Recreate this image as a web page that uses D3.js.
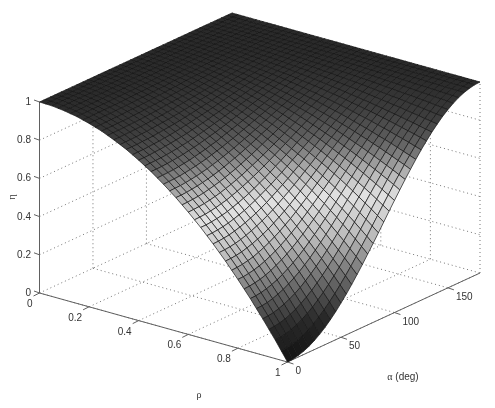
<!DOCTYPE html>
<html><head><meta charset="utf-8">
<script src="https://cdn.jsdelivr.net/npm/d3@7/dist/d3.min.js"></script>
<style>html,body{margin:0;padding:0;background:#fff}svg{display:block;filter:blur(0.4px)}text{font-family:"Liberation Sans",Arial,sans-serif;font-size:10px;fill:#333}</style>
</head><body><div id="chart"></div>
<script>
const rhoTicks=[0,0.2,0.4,0.6,0.8,1];
const rhoTickLabels=["0","0.2","0.4","0.6","0.8","1"];
const alphaTicks=[0,50,100,150];
const alphaTickLabels=["0","50","100","150"];
const etaTicks=[0,0.2,0.4,0.6,0.8,1];
const etaTickLabels=["0","0.2","0.4","0.6","0.8","1"];
const etaStops=[0,0.13,0.26,0.44,0.6,0.7,0.8,0.9,1];
const grayStops=[18,42,100,186,226,175,98,62,42];
// eta read on the mesh: one row per alpha (0..180 step 5), one column per rho (0..1 step 0.025)
const etaGrid=[
[1,.999,.998,.994,.99,.984,.978,.969,.96,.949,.938,.924,.91,.894,.878,.859,.84,.819,.798,.774,.75,.724,.698,.669,.64,.609,.578,.544,.51,.474,.438,.399,.36,.319,.278,.234,.19,.144,.098,.049,0],
[1,.999,.998,.994,.99,.984,.978,.969,.96,.949,.938,.925,.91,.895,.878,.86,.84,.82,.798,.775,.751,.725,.698,.67,.641,.61,.578,.545,.511,.475,.439,.401,.361,.321,.279,.236,.192,.146,.099,.051,.002],
[1,.999,.998,.994,.99,.984,.978,.97,.96,.95,.938,.925,.911,.895,.878,.86,.841,.821,.799,.776,.752,.726,.7,.672,.643,.612,.581,.548,.514,.478,.442,.404,.365,.325,.283,.24,.196,.151,.104,.057,.008],
[1,.999,.998,.995,.99,.985,.978,.97,.961,.95,.939,.926,.912,.896,.88,.862,.843,.822,.801,.778,.754,.729,.703,.675,.646,.616,.585,.552,.518,.483,.447,.41,.371,.331,.29,.247,.204,.159,.113,.066,.017],
[1,.999,.998,.995,.99,.985,.978,.97,.961,.951,.939,.927,.913,.898,.881,.864,.845,.825,.804,.781,.758,.733,.707,.679,.651,.621,.59,.558,.525,.49,.455,.417,.379,.34,.299,.258,.215,.17,.125,.078,.03],
[1,.999,.998,.995,.99,.985,.979,.971,.962,.952,.94,.928,.914,.899,.883,.866,.848,.828,.807,.785,.762,.737,.712,.685,.657,.628,.597,.566,.533,.499,.464,.428,.39,.351,.311,.27,.228,.184,.14,.094,.047],
[1,.999,.998,.995,.991,.985,.979,.971,.963,.953,.942,.929,.916,.902,.886,.869,.851,.831,.811,.789,.767,.743,.718,.692,.664,.635,.606,.575,.543,.51,.475,.44,.403,.365,.326,.286,.244,.202,.158,.113,.067],
[1,.999,.998,.995,.991,.986,.98,.972,.964,.954,.943,.931,.918,.904,.889,.872,.855,.836,.816,.795,.773,.749,.725,.699,.673,.645,.616,.585,.554,.522,.488,.454,.418,.381,.343,.304,.263,.222,.179,.135,.09],
[1,.999,.998,.995,.991,.986,.98,.973,.965,.955,.945,.933,.921,.907,.892,.876,.859,.84,.821,.801,.779,.757,.733,.708,.682,.655,.627,.598,.567,.536,.503,.47,.435,.399,.362,.324,.285,.244,.203,.161,.117],
[1,.999,.998,.995,.992,.987,.981,.974,.966,.957,.947,.935,.923,.91,.895,.88,.863,.846,.827,.807,.787,.765,.742,.718,.693,.667,.639,.611,.582,.551,.52,.487,.454,.419,.383,.347,.309,.27,.23,.189,.146],
[1,.999,.998,.995,.992,.987,.982,.975,.967,.958,.949,.938,.926,.913,.899,.885,.869,.852,.834,.815,.795,.774,.752,.728,.704,.679,.653,.626,.597,.568,.538,.507,.474,.441,.406,.371,.335,.297,.259,.219,.179],
[1,.999,.998,.996,.992,.988,.982,.976,.968,.96,.951,.941,.929,.917,.904,.889,.874,.858,.841,.822,.803,.783,.762,.74,.717,.693,.668,.642,.615,.586,.557,.527,.496,.464,.432,.398,.363,.327,.29,.252,.213],
[1,.999,.998,.996,.993,.988,.983,.977,.97,.962,.953,.943,.933,.921,.908,.895,.88,.865,.848,.831,.813,.793,.773,.752,.73,.707,.683,.658,.633,.606,.578,.55,.52,.49,.458,.426,.393,.358,.323,.287,.25],
[1,1,.998,.996,.993,.989,.984,.978,.972,.964,.956,.946,.936,.925,.913,.9,.886,.872,.856,.84,.822,.804,.785,.765,.744,.722,.699,.676,.652,.626,.6,.573,.545,.516,.486,.455,.424,.391,.358,.324,.289],
[1,1,.998,.996,.993,.99,.985,.979,.973,.966,.958,.949,.94,.929,.918,.906,.893,.879,.864,.849,.832,.815,.797,.778,.758,.738,.717,.694,.671,.647,.623,.597,.571,.543,.515,.486,.457,.426,.394,.362,.329],
[1,1,.998,.996,.994,.99,.986,.981,.975,.968,.961,.952,.943,.934,.923,.911,.899,.886,.873,.858,.843,.826,.81,.792,.773,.754,.734,.713,.692,.669,.646,.622,.597,.572,.545,.518,.49,.462,.432,.402,.371],
[1,1,.999,.997,.994,.991,.987,.982,.977,.97,.963,.956,.947,.938,.928,.918,.906,.894,.881,.868,.853,.838,.823,.806,.789,.771,.752,.733,.712,.692,.67,.648,.624,.601,.576,.551,.525,.498,.47,.442,.413],
[1,1,.999,.997,.995,.992,.988,.983,.978,.973,.966,.959,.951,.943,.933,.924,.913,.902,.89,.877,.864,.85,.836,.82,.804,.788,.77,.752,.734,.714,.694,.673,.652,.63,.607,.584,.56,.535,.509,.483,.456],
[1,1,.999,.997,.995,.992,.989,.985,.98,.975,.969,.962,.955,.947,.939,.93,.92,.91,.899,.887,.875,.862,.849,.835,.82,.805,.789,.772,.755,.737,.719,.7,.68,.66,.639,.617,.595,.572,.549,.525,.5],
[1,1,.999,.997,.995,.993,.99,.986,.982,.977,.972,.965,.959,.952,.944,.936,.927,.918,.908,.897,.886,.874,.862,.849,.836,.822,.807,.792,.776,.76,.743,.726,.708,.689,.67,.65,.63,.61,.588,.566,.544],
[1,1,.999,.998,.996,.994,.991,.987,.983,.979,.974,.969,.963,.956,.949,.942,.934,.925,.916,.907,.897,.886,.875,.863,.851,.839,.825,.812,.798,.783,.768,.752,.736,.719,.702,.684,.665,.647,.627,.607,.587],
[1,1,.999,.998,.996,.994,.992,.989,.985,.981,.977,.972,.967,.961,.955,.948,.941,.933,.925,.916,.907,.898,.888,.878,.867,.855,.843,.831,.818,.805,.792,.777,.763,.748,.732,.716,.7,.683,.666,.648,.629],
[1,1,.999,.998,.997,.995,.993,.99,.987,.983,.979,.975,.97,.965,.96,.954,.947,.941,.933,.926,.918,.909,.9,.891,.882,.872,.861,.85,.839,.827,.815,.802,.789,.776,.762,.748,.733,.718,.703,.687,.671],
[1,1,.999,.998,.997,.995,.994,.991,.988,.985,.982,.978,.974,.969,.965,.959,.954,.948,.942,.935,.928,.92,.913,.905,.896,.887,.878,.869,.859,.848,.838,.827,.815,.804,.791,.779,.766,.753,.739,.726,.711],
[1,1,.999,.999,.998,.996,.994,.992,.99,.987,.984,.981,.977,.974,.969,.965,.96,.955,.949,.944,.938,.931,.924,.917,.91,.902,.894,.886,.878,.869,.859,.85,.84,.83,.819,.809,.798,.786,.774,.762,.75],
[1,1,.999,.999,.998,.997,.995,.993,.992,.989,.987,.984,.981,.977,.974,.97,.966,.962,.957,.952,.947,.941,.935,.93,.923,.917,.91,.903,.896,.888,.88,.872,.864,.855,.846,.837,.827,.818,.808,.797,.787],
[1,1,1,.999,.998,.997,.996,.995,.993,.991,.989,.987,.984,.981,.978,.975,.971,.968,.964,.96,.955,.951,.946,.941,.936,.93,.925,.919,.912,.906,.899,.893,.886,.878,.871,.863,.855,.847,.839,.83,.821],
[1,1,1,.999,.999,.998,.997,.996,.994,.993,.991,.989,.987,.985,.982,.979,.977,.974,.97,.967,.963,.96,.956,.952,.947,.943,.938,.933,.928,.923,.918,.912,.906,.9,.894,.888,.881,.875,.868,.861,.854],
[1,1,1,.999,.999,.998,.997,.996,.995,.994,.993,.991,.989,.988,.986,.984,.981,.979,.976,.974,.971,.968,.965,.961,.958,.954,.951,.947,.943,.938,.934,.93,.925,.92,.916,.91,.905,.9,.894,.889,.883],
[1,1,1,.999,.999,.999,.998,.997,.996,.995,.994,.993,.992,.99,.989,.987,.986,.984,.982,.98,.977,.975,.973,.97,.968,.965,.962,.959,.956,.953,.949,.946,.942,.939,.935,.931,.927,.923,.918,.914,.91],
[1,1,1,.999,.999,.999,.998,.998,.997,.997,.996,.995,.994,.993,.992,.991,.989,.988,.986,.985,.983,.982,.98,.978,.976,.974,.972,.97,.967,.965,.962,.96,.957,.954,.952,.949,.946,.943,.939,.936,.933],
[1,1,1,1,.999,.999,.999,.999,.998,.998,.997,.996,.996,.995,.994,.993,.993,.992,.991,.989,.988,.987,.986,.985,.983,.982,.98,.979,.977,.975,.974,.972,.97,.968,.966,.964,.962,.96,.958,.956,.953],
[1,1,1,1,1,1,.999,.999,.999,.998,.998,.998,.997,.997,.996,.996,.995,.995,.994,.993,.992,.992,.991,.99,.989,.988,.987,.986,.985,.984,.983,.982,.981,.979,.978,.977,.976,.974,.973,.971,.97],
[1,1,1,1,1,1,1,.999,.999,.999,.999,.999,.998,.998,.998,.998,.997,.997,.997,.996,.996,.995,.995,.994,.994,.993,.993,.992,.992,.991,.99,.99,.989,.988,.988,.987,.986,.985,.985,.984,.983],
[1,1,1,1,1,1,1,1,1,1,1,.999,.999,.999,.999,.999,.999,.999,.998,.998,.998,.998,.998,.997,.997,.997,.997,.997,.996,.996,.996,.995,.995,.995,.995,.994,.994,.993,.993,.993,.992],
[1,1,1,1,1,1,1,1,1,1,1,1,1,1,1,1,1,1,1,1,1,.999,.999,.999,.999,.999,.999,.999,.999,.999,.999,.999,.999,.999,.999,.999,.998,.998,.998,.998,.998],
[1,1,1,1,1,1,1,1,1,1,1,1,1,1,1,1,1,1,1,1,1,1,1,1,1,1,1,1,1,1,1,1,1,1,1,1,1,1,1,1,1]
];
const W=495,H=408;
const svg=d3.select("#chart").append("svg").attr("width",W).attr("height",H);
const originX=39.5,originY=293;
const rhoX=d3.scaleLinear().domain([0,1]).range([0,248]);
const rhoY=d3.scaleLinear().domain([0,1]).range([0,69]);
const alphaX=d3.scaleLinear().domain([0,180]).range([0,192.5]);
const alphaY=d3.scaleLinear().domain([0,180]).range([0,-89]);
const etaY=d3.scaleLinear().domain([0,1]).range([0,-191]);
const gray=d3.scaleLinear().domain(etaStops).range(grayStops);
const rhoStep=d3.range(41).map(k=>k/40), alphaStep=d3.range(0,181,5);
const P=(r,a,e)=>[originX+rhoX(r)+alphaX(a),originY+rhoY(r)+alphaY(a)+etaY(e)];
const seg=(g,a,b,cls)=>g.append("line").attr("x1",a[0]).attr("y1",a[1]).attr("x2",b[0]).attr("y2",b[1]).attr("class",cls);
const A=180;
const grid=svg.append("g").attr("stroke","#666").attr("stroke-width",0.9).attr("stroke-dasharray","1 3").attr("fill","none");
etaTicks.forEach(e=>{ if(e===0) return;
  seg(grid,P(0,0,e),P(0,A,e),"g"); seg(grid,P(0,A,e),P(1,A,e),"g");});
rhoTicks.forEach(r=>{ seg(grid,P(r,0,0),P(r,A,0),"g"); if(r>0) seg(grid,P(r,A,0),P(r,A,1),"g");});
alphaTicks.forEach(a=>{ seg(grid,P(0,a,0),P(1,a,0),"g"); if(a>0) seg(grid,P(0,a,0),P(0,a,1),"g");});
seg(grid,P(0,A,0),P(1,A,0),"g");
const axes=svg.append("g").attr("stroke","#606060").attr("stroke-width",1).attr("fill","none");
seg(axes,P(0,0,0),P(0,0,1),"a"); seg(axes,P(0,0,0),P(1,0,0),"a"); seg(axes,P(1,0,0),P(1,A,0),"a");
etaTicks.forEach(e=>{const p=P(0,0,e);seg(axes,p,[p[0]-5.5,p[1]-2],"t");});
rhoTicks.forEach(r=>{const p=P(r,0,0);seg(axes,p,[p[0]-6,p[1]+3],"t");});
alphaTicks.forEach(a=>{const p=P(1,a,0);seg(axes,p,[p[0]+6,p[1]+2],"t");});
const cells=[];
for(let i=alphaStep.length-2;i>=0;i--)for(let j=0;j<rhoStep.length-1;j++){
  const c=[[i,j],[i,j+1],[i+1,j+1],[i+1,j]];
  cells.push({pts:c.map(([u,v])=>P(rhoStep[v],alphaStep[u],etaGrid[u][v])),eta:d3.mean(c,([u,v])=>etaGrid[u][v])});
}
const line=d3.line();
svg.append("g").selectAll("path").data(cells).join("path")
  .attr("d",d=>line(d.pts)+"Z")
  .attr("fill",d=>{const g=Math.round(gray(d.eta));return `rgb(${g},${g},${g})`;})
  .attr("stroke","#151515").attr("stroke-width",0.7).attr("stroke-linejoin","round");
const txt=svg.append("g");
etaTicks.forEach((e,i)=>{const p=P(0,0,e);txt.append("text").attr("x",p[0]-8.5).attr("y",p[1]-0.5).attr("text-anchor","end").attr("dominant-baseline","central").text(etaTickLabels[i]);});
rhoTicks.forEach((r,i)=>{const p=P(r,0,0);txt.append("text").attr("x",p[0]-7).attr("y",p[1]+10.5).attr("text-anchor","end").attr("dominant-baseline","central").text(rhoTickLabels[i]);});
alphaTicks.forEach((a,i)=>{const p=P(1,a,0);txt.append("text").attr("x",p[0]+8).attr("y",p[1]+8.5).attr("dominant-baseline","central").text(alphaTickLabels[i]);});
txt.append("text").attr("x",199).attr("y",394).attr("text-anchor","middle").attr("dominant-baseline","central").style("font-family","Liberation Serif").text("ρ");
const al=txt.append("text").attr("x",403).attr("y",376).attr("text-anchor","middle").attr("dominant-baseline","central");
al.append("tspan").style("font-family","Liberation Serif").text("α");al.append("tspan").text(" (deg)");
txt.append("text").attr("transform","translate(11,197) rotate(-90)").attr("text-anchor","middle").attr("dominant-baseline","central").style("font-family","Liberation Serif").text("η");
</script></body></html>
